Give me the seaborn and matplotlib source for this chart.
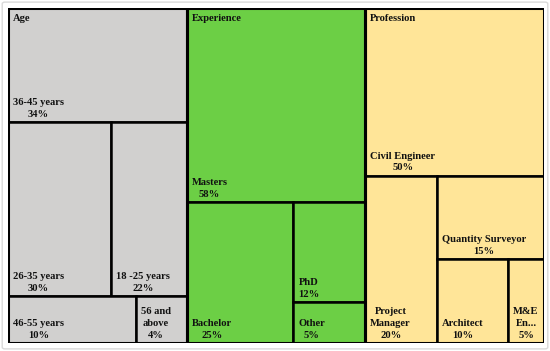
import matplotlib
matplotlib.use("Agg")
import matplotlib.pyplot as plt
import seaborn as sns
from matplotlib.patches import Rectangle, FancyBboxPatch

# ---------------- data ----------------
groups = ["Age", "Experience", "Profession"]
age_labels = ["36-45 years", "26-35 years", "18 -25 years", "46-55 years", "56 and above"]
age_values = [34, 30, 22, 10, 4]
exp_labels = ["Masters", "Bachelor", "PhD", "Other"]
exp_values = [58, 25, 12, 5]
prof_labels = ["Civil Engineer", "Project Manager", "Quantity Surveyor", "Architect", "M&E Engineer"]
prof_values = [50, 20, 15, 10, 5]
group_colors = ["#D1D0CF", "#6CCF45", "#FFE598"]

group_data = [(age_labels, age_values), (exp_labels, exp_values), (prof_labels, prof_values)]

# ---------------- squarified treemap ----------------
def worst(row, length, area_scale):
    s = sum(row) * area_scale
    t = s / length
    ratios = []
    for v in row:
        l = v * area_scale / t
        ratios.append(max(t / l, l / t))
    return max(ratios)

def squarify(values, x, y, w, h):
    rects = []
    vals = list(values)
    i = 0
    while i < len(vals):
        rem = sum(vals[i:])
        scale = (w * h) / rem
        length = min(w, h)
        row = [vals[i]]
        j = i + 1
        while j < len(vals):
            if worst(row + [vals[j]], length, scale) <= worst(row, length, scale):
                row.append(vals[j]); j += 1
            else:
                break
        rs = sum(row)
        if w >= h:  # column along height at left
            t = w * rs / rem
            yy = y
            for v in row:
                hh = h * v / rs
                rects.append((x, yy, t, hh)); yy += hh
            x += t; w -= t
        else:       # row along width at top
            t = h * rs / rem
            xx = x
            for v in row:
                ww = w * v / rs
                rects.append((xx, y, ww, t)); xx += ww
            y += t; h -= t
        i = j
    return rects

# layout domain (y downward)
W, H = 1.9, 1.0
group_rects = squarify([sum(v) for _, v in group_data], 0, 0, W, H)

sns.set_theme(style="white")
plt.rcParams["font.family"] = ["Liberation Serif", "DejaVu Serif"]

fig = plt.figure(figsize=(5.5, 3.51), dpi=100)
frame = FancyBboxPatch((0.004, 0.006), 0.992, 0.988, boxstyle="round,pad=0,rounding_size=0.005",
                       transform=fig.transFigure, facecolor="none", edgecolor="#D9D9D9",
                       linewidth=1.0, zorder=-1)
fig.patches.append(frame)
ax = fig.add_axes([8 / 550, 1 - 343 / 351, 536 / 550, 335 / 351])
ax.set_xlim(0, W)
ax.set_ylim(H, 0)
ax.axis("off")
fig.canvas.draw()
renderer = fig.canvas.get_renderer()

FS = 7.6
pad_px = 5
pad_bottom = 3

def px_w(txt):
    t = ax.text(0, 0, txt, fontsize=FS, fontweight="bold")
    bb = t.get_window_extent(renderer)
    t.remove()
    return bb.width

def wrap(label, maxw):
    words = label.split()
    lines = []
    cur = ""
    for wd in words:
        cand = (cur + " " + wd).strip()
        if px_w(cand) <= maxw:
            cur = cand
        else:
            if cur:
                lines.append(cur)
            if px_w(wd) <= maxw:
                cur = wd
            else:
                k = len(wd)
                while k > 1 and px_w(wd[:k] + "...") > maxw:
                    k -= 1
                lines.append(wd[:k] + "...")
                cur = ""
                break
    if cur:
        lines.append(cur)
    return lines

def cell_px_width(lw):
    p0 = ax.transData.transform((0, 0))
    p1 = ax.transData.transform((lw, 0))
    return abs(p1[0] - p0[0])

inv = ax.transData.inverted()
for (gname, col, grect, (labels, values)) in zip(groups, group_colors, group_rects, group_data):
    gx, gy, gw, gh = grect
    leaves = squarify(values, gx, gy, gw, gh)
    for (lx, ly, lw, lh), lab, val in zip(leaves, labels, values):
        ax.add_patch(Rectangle((lx, ly), lw, lh, facecolor=col, edgecolor="black", linewidth=1.8, zorder=1))
        wpx = cell_px_width(lw)
        lines = wrap(lab, wpx - 2 * pad_px)
        lines.append(f"{val}%")
        tx = inv.transform(ax.transData.transform((lx, ly + lh)) + (pad_px, pad_bottom))
        ax.text(tx[0], tx[1], "\n".join(lines), ha="left", va="bottom", multialignment="center",
                fontsize=FS, fontweight="bold", color="#111111", linespacing=1.42, zorder=3)
    ax.add_patch(Rectangle((gx, gy), gw, gh, facecolor="none", edgecolor="black", linewidth=2.2, zorder=2))
    hx = inv.transform(ax.transData.transform((gx, gy)) + (5, -6))
    ax.text(hx[0], hx[1], gname, ha="left", va="top", fontsize=FS, fontweight="bold",
            color="#111111", zorder=3)

fig.savefig("out.png", dpi=100)
